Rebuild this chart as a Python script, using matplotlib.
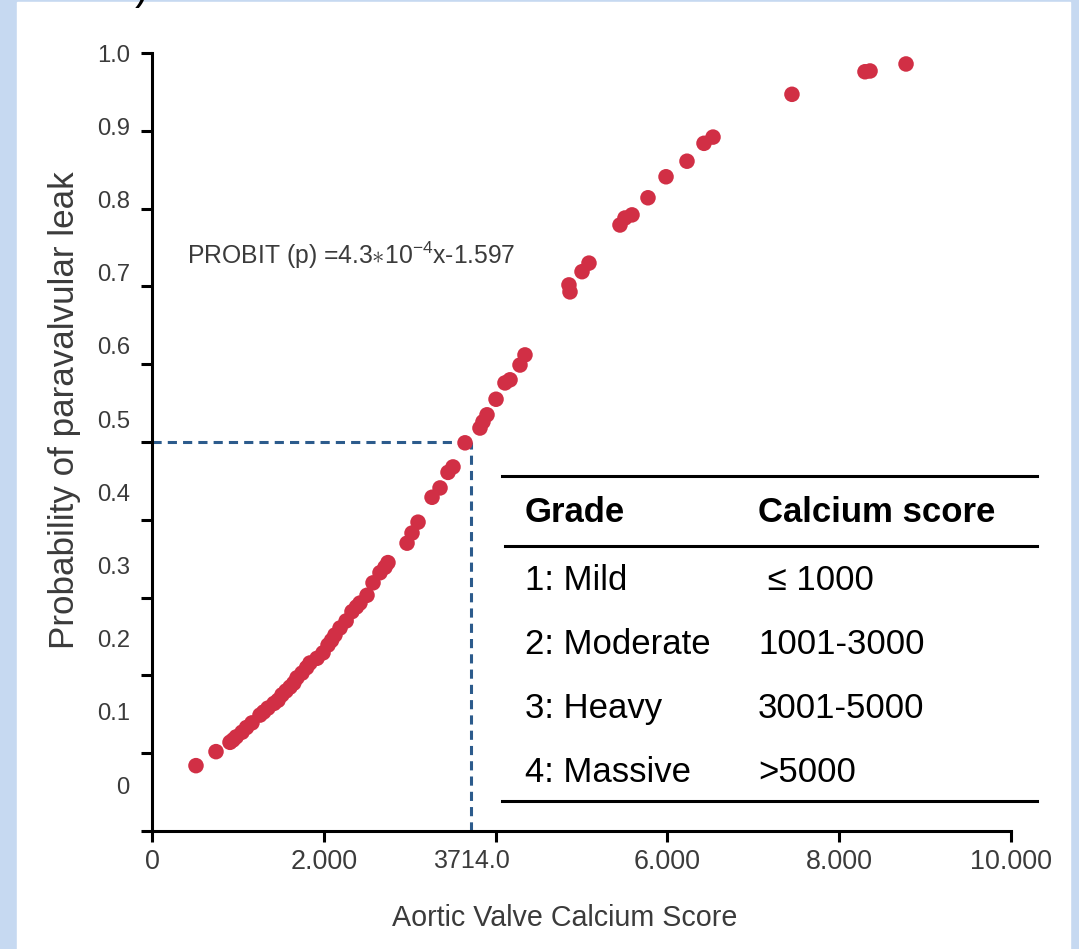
#!/usr/bin/env python3

import matplotlib
matplotlib.use('Agg')
import matplotlib.pyplot as plt
from matplotlib import font_manager
from matplotlib.lines import Line2D

# values
calcium_score = [512, 745, 908, 943, 980, 1048, 1100, 1164, 1257, 1300,
                 1350, 1420, 1467, 1513, 1560, 1607, 1650, 1688, 1746, 1800,
                 1839, 1921, 1991, 2049, 2090, 2130, 2189, 2260, 2328, 2380,
                 2421, 2503, 2573, 2654, 2712, 2747, 2969, 3027, 3097, 3260,
                 3353, 3446, 3504, 3644, 3818, 3853, 3900, 4005, 4109, 4168,
                 4284, 4342, 4854, 4866, 5006, 5087, 5448, 5506, 5588, 5774,
                 5984, 6228, 6426, 6531, 7450, 8300, 8359, 8778]
leak_prob = [0.084, 0.102, 0.114, 0.117, 0.121, 0.127, 0.133, 0.139, 0.149, 0.153,
             0.158, 0.164, 0.168, 0.175, 0.180, 0.185, 0.190, 0.197, 0.203, 0.210,
             0.216, 0.222, 0.229, 0.239, 0.245, 0.252, 0.261, 0.270, 0.282, 0.288,
             0.293, 0.303, 0.319, 0.332, 0.339, 0.345, 0.370, 0.383, 0.397, 0.429,
             0.441, 0.461, 0.468, 0.499, 0.518, 0.526, 0.535, 0.555, 0.576, 0.580,
             0.599, 0.612, 0.702, 0.693, 0.719, 0.730, 0.779, 0.788, 0.792, 0.814,
             0.841, 0.861, 0.884, 0.892, 0.947, 0.976, 0.977, 0.986]

threshold = 3714
threshold_prob = 0.5

x_ticks = [0, 2000, 4000, 6000, 8000, 10000]
x_tick_labels = ['0', '2.000', '', '6.000', '8.000', '10.000']
y_ticks = [0, 0.1, 0.2, 0.3, 0.4, 0.5, 0.6, 0.7, 0.8, 0.9, 1.0]
y_tick_labels = ['0', '0.1', '0.2', '0.3', '0.4', '0.5', '0.6', '0.7', '0.8', '0.9', '1.0']

grades = ['1: Mild', '2: Moderate', '3: Heavy', '4: Massive']
score_ranges = [' \u2264 1000', '1001-3000', '3001-5000', '>5000']

W, H = 1079, 949
BG_BLUE = '#c6d9f1'
DOT_RED = '#d12f45'
DASH_BLUE = '#2c5b8c'
GREY = '#3b3b3b'


def fx(px):
    return px / W


def fy(py):
    return 1 - py / H


def main():
    plt.rcParams['font.family'] = ['Liberation Sans', 'DejaVu Sans']
    plt.rcParams['mathtext.fontset'] = 'custom'
    plt.rcParams['mathtext.rm'] = 'Liberation Sans'
    plt.rcParams['mathtext.it'] = 'Liberation Sans'

    # axis texts in the reference use a narrow face
    installed = {f.name for f in font_manager.fontManager.ttflist}
    has_narrow = 'Liberation Sans Narrow' in installed
    narrow = 'Liberation Sans Narrow' if has_narrow else 'Liberation Sans'
    k = 1.0 if has_narrow else 0.84

    fig = plt.figure(figsize=(W / 100, H / 100), dpi=100, facecolor=BG_BLUE)
    # white panel inside the light blue frame
    fig.patches.append(plt.Rectangle((fx(17), 0), fx(1070) - fx(17), fy(2),
                                     transform=fig.transFigure, color='white', zorder=-5))
    # cut-off character at the very top
    fig.text(fx(142), fy(-1), ')', fontsize=30, color='black', ha='center', va='baseline')

    ax = fig.add_axes([fx(152), fy(831), fx(1011) - fx(152), fy(53) - fy(831)])
    ax.set_facecolor('none')
    ax.set_xlim(0, 10000)
    ax.set_ylim(0, 1)

    ax.plot([0, threshold], [threshold_prob, threshold_prob], color=DASH_BLUE,
            lw=2.2, dashes=(3, 2), zorder=2)
    ax.plot([threshold, threshold], [0, threshold_prob], color=DASH_BLUE,
            lw=2.2, dashes=(3, 2), zorder=2)
    ax.scatter(calcium_score, leak_prob, s=125, color=DOT_RED, edgecolors='none',
               zorder=3, clip_on=False)

    for side in ['top', 'right']:
        ax.spines[side].set_visible(False)
    for side in ['left', 'bottom']:
        ax.spines[side].set_linewidth(2.2)

    ax.set_xticks(x_ticks, x_tick_labels)
    ax.set_xticks([threshold], ['3714.0'], minor=True)
    ax.set_yticks(y_ticks, [''] * len(y_ticks))
    # the y labels sit on their own, slightly compressed scale
    label_pos = [0.0591 + 0.941 * v for v in y_ticks]
    ax.set_yticks(label_pos, y_tick_labels, minor=True)

    ax.tick_params(which='major', length=8, width=2.2, direction='out')
    ax.tick_params(which='minor', length=0)
    ax.tick_params(axis='x', which='major', labelsize=23 * k, pad=5, labelcolor=GREY)
    ax.tick_params(axis='x', which='minor', labelsize=21.5 * k, pad=13, labelcolor=GREY)
    ax.tick_params(axis='y', which='minor', labelsize=20.5 * k, pad=16, labelcolor=GREY)
    for lab in ax.get_xticklabels(which='both') + ax.get_yticklabels(which='both'):
        lab.set_fontfamily([narrow, 'Liberation Sans'])

    fig.text(fx(565), fy(918), 'Aortic Valve Calcium Score', fontsize=24.5 * k,
             color=GREY, ha='center', va='center', family=[narrow, 'Liberation Sans'])
    fig.text(fx(65), fy(410), 'Probability of paravalvular leak', fontsize=25.2,
             color=GREY, ha='center', va='center', rotation=90)
    fig.text(fx(187), fy(255), r'PROBIT (p) =4.3$\ast$10$^{-4}$x-1.597',
             fontsize=17.8, color=GREY, ha='left', va='center')

    # grading table
    for py, x0 in [(476, 502), (546, 505), (801, 502)]:
        fig.add_artist(Line2D([fx(x0), fx(1037)], [fy(py), fy(py)], color='black',
                              lw=2.2, transform=fig.transFigure))
    fig.text(fx(525), fy(512), 'Grade', fontsize=25, fontweight='bold',
             ha='left', va='center')
    fig.text(fx(758), fy(512), 'Calcium score', fontsize=25, fontweight='bold',
             ha='left', va='center')
    for i, (g, r) in enumerate(zip(grades, score_ranges)):
        py = 580 + i * 64.3
        fig.text(fx(525), fy(py), g, fontsize=25, ha='left', va='center')
        fig.text(fx(758), fy(py), r, fontsize=25, ha='left', va='center')

    fig.savefig('out.png', dpi=100, facecolor=BG_BLUE)


if __name__ == '__main__':
    main()
